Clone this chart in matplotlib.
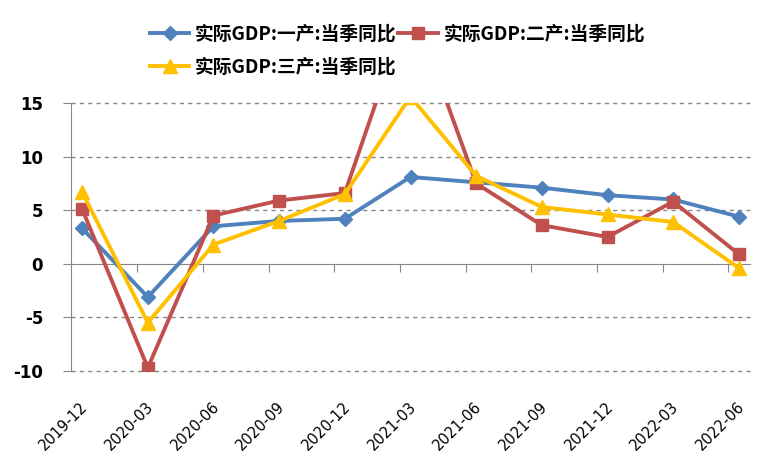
import matplotlib.pyplot as plt
from matplotlib.ticker import FixedLocator

plt.rcParams['font.family'] = ['Noto Sans CJK SC', 'DejaVu Sans']

# data
quarters = ["2019-12", "2020-03", "2020-06", "2020-09", "2020-12", "2021-03",
            "2021-06", "2021-09", "2021-12", "2022-03", "2022-06"]
primary = [3.3, -3.1, 3.5, 4.0, 4.2, 8.1, 7.6, 7.1, 6.4, 6.0, 4.4]
secondary = [5.1, -9.7, 4.5, 5.9, 6.6, 24.4, 7.5, 3.6, 2.5, 5.8, 0.9]
tertiary = [6.7, -5.5, 1.8, 4.0, 6.5, 15.6, 8.2, 5.3, 4.6, 3.9, -0.4]

labels = ["实际GDP:一产:当季同比", "实际GDP:二产:当季同比", "实际GDP:三产:当季同比"]
colors = ["#4F81BD", "#C0504D", "#FFC000"]
markers = ["D", "s", "^"]
msizes = [7.5, 8, 9.5]

fig = plt.figure(figsize=(7.78, 4.75), dpi=100)
ax = fig.add_axes([71 / 778, 1 - 371 / 475, (750 - 71) / 778, (371 - 103) / 475])

x = list(range(len(quarters)))
lines = []
for vals, lab, c, m, ms in zip([primary, secondary, tertiary], labels, colors, markers, msizes):
    ln, = ax.plot(x, vals, color=c, lw=2.8, marker=m, markersize=ms, label=lab,
                  clip_on=True, zorder=3)
    lines.append(ln)

ax.set_ylim(-10, 15)
ax.set_xlim(-0.17, 10.17)
ax.set_yticks([-10, -5, 0, 5, 10, 15])
ax.set_yticklabels(["-10", "-5", "0", "5", "10", "15"], fontsize=12,
                   fontweight="bold", family="DejaVu Sans")
for y in [-10, -5, 5, 10, 15]:
    ax.axhline(y, color="#868686", lw=1, ls=(0, (3, 3)), zorder=1, clip_on=False)

grey = "#868686"
for s in ["top", "right"]:
    ax.spines[s].set_visible(False)
ax.spines["left"].set_color(grey)
ax.spines["bottom"].set_color(grey)
ax.spines["bottom"].set_position(("data", 0))
ax.tick_params(axis="y", length=6, color=grey, pad=14)

# category boundary ticks on the zero line
ax.xaxis.set_major_locator(FixedLocator([i - 0.16 for i in range(1, 11)]))
ax.tick_params(axis="x", length=6, color=grey, labelbottom=False)

for i, q in enumerate(quarters):
    ax.annotate(q, xy=(i, 0), xycoords=("data", "axes fraction"),
                xytext=(-2, -28), textcoords="offset pixels",
                rotation=45, ha="right", va="top", rotation_mode="anchor",
                fontsize=10.5, family="DejaVu Sans", color="#000000")

fig.legend([lines[0], lines[2], lines[1]], [labels[0], labels[2], labels[1]],
           ncol=2, loc="upper left", bbox_to_anchor=(133 / 778, 1 - 8 / 475),
           frameon=False, prop={"size": 13.5, "weight": "bold"},
           handlelength=2.1, columnspacing=0.1, handletextpad=0.3,
           labelspacing=0.75)

fig.savefig("out.png", dpi=100)
